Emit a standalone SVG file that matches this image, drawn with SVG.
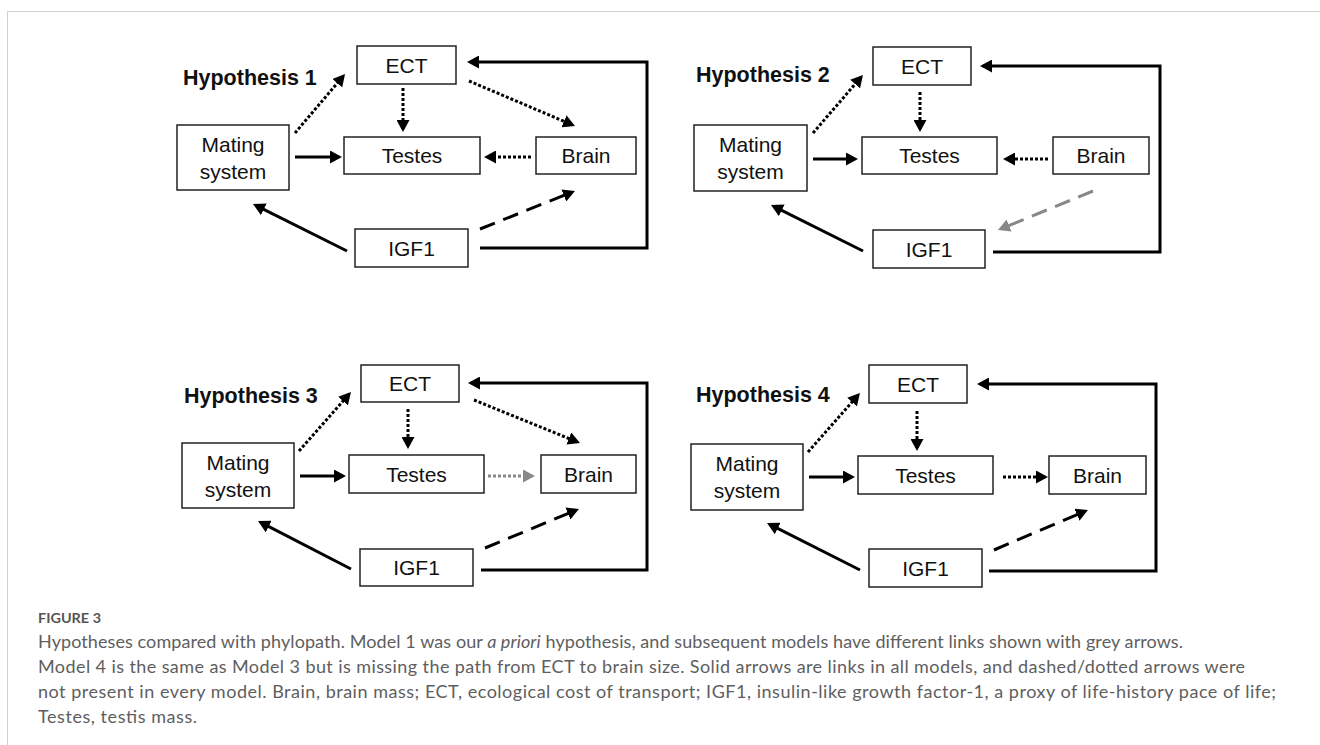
<svg xmlns="http://www.w3.org/2000/svg" width="1320" height="745" viewBox="0 0 1320 745">
<style>
.box{fill:#fff;stroke:#222;stroke-width:1.5}
.lbl{font-family:"Liberation Sans",Arial,sans-serif;font-size:21px;fill:#111;text-anchor:middle}
.hyp{font-family:"Liberation Sans",Arial,sans-serif;font-size:21.5px;font-weight:bold;fill:#111}
.solid{fill:none;stroke:#000;stroke-width:3}
.dot{fill:none;stroke:#000;stroke-width:3;stroke-dasharray:3 2}
.dash{fill:none;stroke:#000;stroke-width:3;stroke-dasharray:16 9}
.gdot{fill:none;stroke:#888;stroke-width:3;stroke-dasharray:3 2}
.gdash{fill:none;stroke:#888;stroke-width:3;stroke-dasharray:16 9}
.cap{font-family:Lato,"Open Sans",sans-serif;font-size:18px;fill:#5e5e5e}
.fig{font-family:Lato,"Open Sans",sans-serif;font-size:14px;font-weight:bold;fill:#555}
</style>
<defs>
<marker id="ah" markerUnits="userSpaceOnUse" viewBox="0 0 12 13" refX="9" refY="6.5" markerWidth="12" markerHeight="13" orient="auto">
<path d="M0,0 L12,6.5 L0,13 z" fill="#000"/>
</marker>
<marker id="ahg" markerUnits="userSpaceOnUse" viewBox="0 0 12 13" refX="9" refY="6.5" markerWidth="12" markerHeight="13" orient="auto">
<path d="M0,0 L12,6.5 L0,13 z" fill="#888"/>
</marker>
</defs>
<rect width="1320" height="745" fill="#fff"/>
<path d="M7.5,745 V11.5 H1320" fill="none" stroke="#cfcfcf" stroke-width="1"/>

<!-- Panel 1 -->
<g id="p1-title"><text class="hyp" x="183" y="85">Hypothesis 1</text></g>
<g id="p1-ect"><rect class="box" x="357" y="46" width="99" height="38"/><text class="lbl" x="406.5" y="72.5">ECT</text></g>
<g id="p1-mating"><rect class="box" x="177" y="125" width="112" height="65"/><text class="lbl" x="233" y="151.5">Mating</text><text class="lbl" x="233" y="178.5">system</text></g>
<g id="p1-testes"><rect class="box" x="344" y="137" width="136" height="37"/><text class="lbl" x="412" y="163">Testes</text></g>
<g id="p1-brain"><rect class="box" x="536" y="137" width="100" height="37"/><text class="lbl" x="586" y="163">Brain</text></g>
<g id="p1-igf1"><rect class="box" x="355" y="229" width="113" height="38"/><text class="lbl" x="411.5" y="255.5">IGF1</text></g>
<g id="p1-connectors">
<path class="dot" d="M295,133 L343.1,76.3" marker-end="url(#ah)"/>
<path class="dot" d="M403,88 L403,129" marker-end="url(#ah)"/>
<path class="dot" d="M469,81 L572.2,124.8" marker-end="url(#ah)"/>
<path class="dot" d="M531,157 L487,157" marker-end="url(#ah)"/>
<path class="solid" d="M295,157 L339,157" marker-end="url(#ah)"/>
<path class="solid" d="M347,251 L255.7,205.3" marker-end="url(#ah)"/>
<path class="dash" d="M480,229 L572.2,192.1" marker-end="url(#ah)"/>
<path class="solid" d="M480,248 H647 V62 H470" marker-end="url(#ah)"/>
</g>

<!-- Panel 2 -->
<g id="p2-title"><text class="hyp" x="696" y="82">Hypothesis 2</text></g>
<g id="p2-ect"><rect class="box" x="873" y="47" width="98" height="38"/><text class="lbl" x="922" y="73.5">ECT</text></g>
<g id="p2-mating"><rect class="box" x="694" y="125" width="113" height="66"/><text class="lbl" x="750.5" y="152">Mating</text><text class="lbl" x="750.5" y="179">system</text></g>
<g id="p2-testes"><rect class="box" x="862" y="137" width="135" height="37"/><text class="lbl" x="929.5" y="163">Testes</text></g>
<g id="p2-brain"><rect class="box" x="1053" y="137" width="96" height="37"/><text class="lbl" x="1101" y="163">Brain</text></g>
<g id="p2-igf1"><rect class="box" x="873" y="230" width="112" height="38"/><text class="lbl" x="929" y="256.5">IGF1</text></g>
<g id="p2-connectors">
<path class="dot" d="M813,133 L861,77.3" marker-end="url(#ah)"/>
<path class="dot" d="M920,92 L920,129" marker-end="url(#ah)"/>
<path class="dot" d="M1048,159 L1006,159" marker-end="url(#ah)"/>
<path class="solid" d="M813,159 L855,159" marker-end="url(#ah)"/>
<path class="gdash" d="M1093,191 L1000.8,228.9" marker-end="url(#ahg)"/>
<path class="solid" d="M863,251 L773.7,206.3" marker-end="url(#ah)"/>
<path class="solid" d="M993,252 H1160 V66 H983" marker-end="url(#ah)"/>
</g>

<!-- Panel 3 -->
<g id="p3-title"><text class="hyp" x="184" y="403">Hypothesis 3</text></g>
<g id="p3-ect"><rect class="box" x="361" y="365" width="98" height="37"/><text class="lbl" x="410" y="391">ECT</text></g>
<g id="p3-mating"><rect class="box" x="182" y="443" width="112" height="65"/><text class="lbl" x="238" y="469.5">Mating</text><text class="lbl" x="238" y="496.5">system</text></g>
<g id="p3-testes"><rect class="box" x="349" y="455" width="135" height="38"/><text class="lbl" x="416.5" y="481.5">Testes</text></g>
<g id="p3-brain"><rect class="box" x="541" y="455" width="95" height="38"/><text class="lbl" x="588.5" y="481.5">Brain</text></g>
<g id="p3-igf1"><rect class="box" x="360" y="549" width="113" height="37"/><text class="lbl" x="416.5" y="575">IGF1</text></g>
<g id="p3-connectors">
<path class="dot" d="M299,451 L349,394.3" marker-end="url(#ah)"/>
<path class="dot" d="M408,409 L408,446" marker-end="url(#ah)"/>
<path class="dot" d="M474,400 L577.2,441.9" marker-end="url(#ah)"/>
<path class="gdot" d="M488,476 L532,476" marker-end="url(#ahg)"/>
<path class="solid" d="M300,476 L343,476" marker-end="url(#ah)"/>
<path class="solid" d="M351,569 L260.7,522.4" marker-end="url(#ah)"/>
<path class="dash" d="M485,548 L576.2,510.1" marker-end="url(#ah)"/>
<path class="solid" d="M481,570 H647 V383 H471" marker-end="url(#ah)"/>
</g>

<!-- Panel 4 -->
<g id="p4-title"><text class="hyp" x="696" y="402">Hypothesis 4</text></g>
<g id="p4-ect"><rect class="box" x="869" y="365" width="98" height="38"/><text class="lbl" x="918" y="391.5">ECT</text></g>
<g id="p4-mating"><rect class="box" x="691" y="444" width="112" height="66"/><text class="lbl" x="747" y="471">Mating</text><text class="lbl" x="747" y="498">system</text></g>
<g id="p4-testes"><rect class="box" x="858" y="456" width="135" height="38"/><text class="lbl" x="925.5" y="482.5">Testes</text></g>
<g id="p4-brain"><rect class="box" x="1049" y="456" width="97" height="38"/><text class="lbl" x="1097.5" y="482.5">Brain</text></g>
<g id="p4-igf1"><rect class="box" x="869" y="549" width="113" height="38"/><text class="lbl" x="925.5" y="575.5">IGF1</text></g>
<g id="p4-connectors">
<path class="dot" d="M808,452 L858,395.3" marker-end="url(#ah)"/>
<path class="dot" d="M917,411 L917,448" marker-end="url(#ah)"/>
<path class="dot" d="M1003,477 L1045,477" marker-end="url(#ah)"/>
<path class="solid" d="M809,477 L852,477" marker-end="url(#ah)"/>
<path class="solid" d="M860,570 L769.7,524.4" marker-end="url(#ah)"/>
<path class="dash" d="M994,550 L1085.2,511.2" marker-end="url(#ah)"/>
<path class="solid" d="M989,571 H1156 V384 H980" marker-end="url(#ah)"/>
</g>

<!-- Caption -->
<g id="caption">
<text class="fig" x="38" y="623" textLength="63" lengthAdjust="spacingAndGlyphs">FIGURE 3</text>
<text class="cap" x="38" y="648" textLength="1145">Hypotheses compared with phylopath. Model 1 was our <tspan font-style="italic">a priori</tspan> hypothesis, and subsequent models have different links shown with grey arrows.</text>
<text class="cap" x="38" y="673" textLength="1207">Model 4 is the same as Model 3 but is missing the path from ECT to brain size. Solid arrows are links in all models, and dashed/dotted arrows were</text>
<text class="cap" x="38" y="698" textLength="1238">not present in every model. Brain, brain mass; ECT, ecological cost of transport; IGF1, insulin-like growth factor-1, a proxy of life-history pace of life;</text>
<text class="cap" x="38" y="723" textLength="159">Testes, testis mass.</text>
</g>
</svg>
